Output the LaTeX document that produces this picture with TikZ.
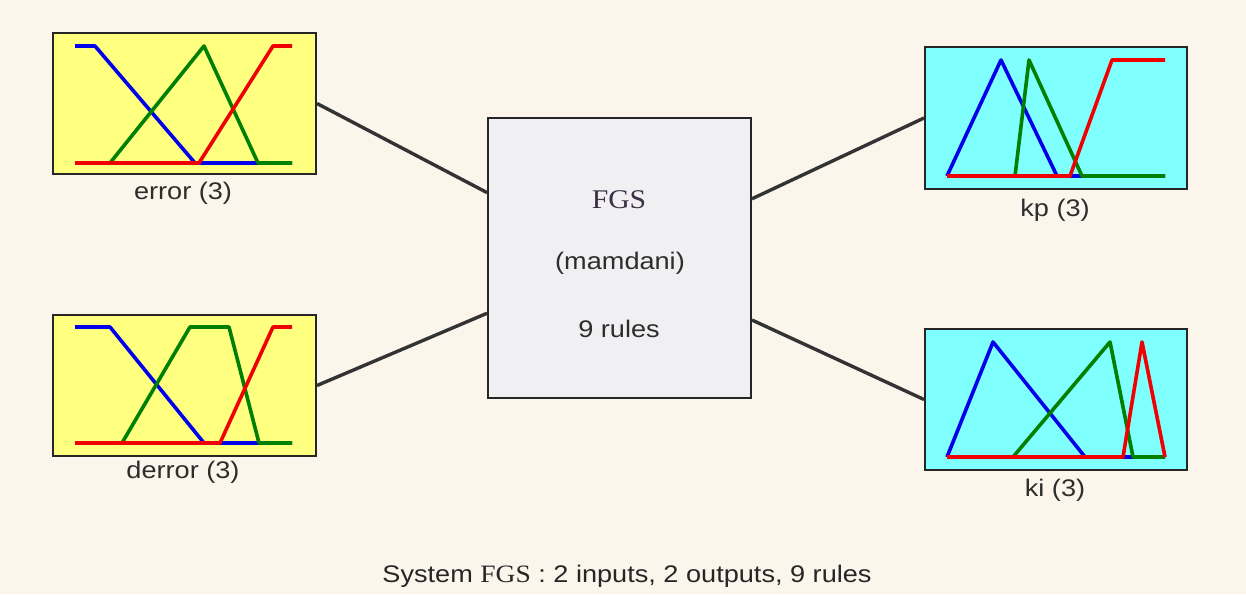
\documentclass[tikz,border=0pt]{standalone}
\usepackage{fontspec}
\setmainfont{Liberation Sans}[FakeStretch=1.13]
\newfontfamily\fgsfont{Liberation Serif}[FakeStretch=1.1]
\usetikzlibrary{calc}
\definecolor{bgcream}{RGB}{252,245,235}
\definecolor{inyellow}{RGB}{255,255,128}
\definecolor{outcyan}{RGB}{128,255,255}
\definecolor{fisgray}{RGB}{240,240,242}
\definecolor{txtgray}{RGB}{45,45,45}
\definecolor{fgspurple}{RGB}{60,48,72}
\definecolor{mfblue}{RGB}{0,0,235}
\definecolor{mfgreen}{RGB}{0,128,0}
\definecolor{mfred}{RGB}{240,0,0}
\tikzset{
  varbox/.style={draw=black!85, line width=2pt, inner sep=0pt, minimum width=263pt, minimum height=141pt},
  inbox/.style={varbox, fill=inyellow},
  outbox/.style={varbox, fill=outcyan, minimum width=262pt},
  fisbox/.style={draw=black!85, line width=2pt, fill=fisgray, inner sep=0pt, minimum width=263pt, minimum height=280pt},
  lbl/.style={text=txtgray, font=\fontsize{24}{28}\selectfont, inner sep=0pt},
  conn/.style={draw=black!80, line width=3.4pt},
  mf/.style={line width=3.6pt, line join=round},
  mfb/.style={mf, mfblue},
  mfg/.style={mf, mfgreen},
  mfr/.style={mf, mfred}
}
\begin{document}
\begin{tikzpicture}[x=1pt,y=-1pt]
\fill[bgcream] (0,0) rectangle (1246,594);
\useasboundingbox (0,0) rectangle (1246,594);

% boxes
\node[inbox] (err) at (184.5,103.5) {};
\node[inbox] (derr) at (184.5,385.5) {};
\node[outbox] (kp) at (1056,118) {};
\node[outbox] (ki) at (1056,399.5) {};
\node[fisbox] (fis) at (619.5,258) {};

% membership functions: error
\draw[mfb] (75,46) -- (95,46) -- (195,163) -- (292,163);
\draw[mfg] (75,163) -- (110,163) -- (204,46) -- (258,163) -- (292,163);
\draw[mfr] (75,163) -- (199,163) -- (273,46) -- (292,46);
% derror
\draw[mfb] (75,327) -- (110,327) -- (204,443) -- (292,443);
\draw[mfg] (75,443) -- (122,443) -- (190,327) -- (229,327) -- (259,443) -- (292,443);
\draw[mfr] (75,443) -- (220,443) -- (273,327) -- (292,327);
% kp
\draw[mfb] (947,176) -- (1001,60) -- (1057,176) -- (1165,176);
\draw[mfg] (947,176) -- (1015,176) -- (1029,60) -- (1082,176) -- (1165,176);
\draw[mfr] (947,176) -- (1070,176) -- (1112,60) -- (1165,60);
% ki
\draw[mfb] (947,457) -- (993,342) -- (1085,457) -- (1165,457);
\draw[mfg] (947,457) -- (1013,457) -- (1110,342) -- (1133,457) -- (1165,457);
\draw[mfr] (947,457) -- (1123,457) -- (1142,342) -- (1165,457);

% labels
\node[lbl] (errl) at (183,193) {error (3)};
\node[lbl] (derrl) at (183,472) {derror (3)};
\node[lbl] (kpl) at (1055,210) {kp (3)};
\node[lbl] (kil) at (1055,490) {ki (3)};

% fis text
\node[lbl, text=fgspurple, font=\fgsfont\fontsize{27}{31}\selectfont] (fgs) at (619,200) {FGS};
\node[lbl] (mam) at (620,263) {(mamdani)};
\node[lbl] (rules) at (619,329) {9 rules};

% connector points on fis box
\coordinate (fin1) at ($(fis.north west)!0.268!(fis.south west)$);
\coordinate (fin2) at ($(fis.north west)!0.696!(fis.south west)$);
\coordinate (fout1) at ($(fis.north east)!0.29!(fis.south east)$);
\coordinate (fout2) at ($(fis.north east)!0.72!(fis.south east)$);

\draw[conn] (err.east) -- (fin1);
\draw[conn] (derr.east) -- (fin2);
\draw[conn] (fout1) -- (kp.west);
\draw[conn] (fout2) -- (ki.west);

% caption
\node[lbl, text=black!85] (cap) at (627,576) {System {\fgsfont\fontsize{25}{29}\selectfont FGS} : 2 inputs, 2 outputs, 9 rules};
\end{tikzpicture}
\end{document}
